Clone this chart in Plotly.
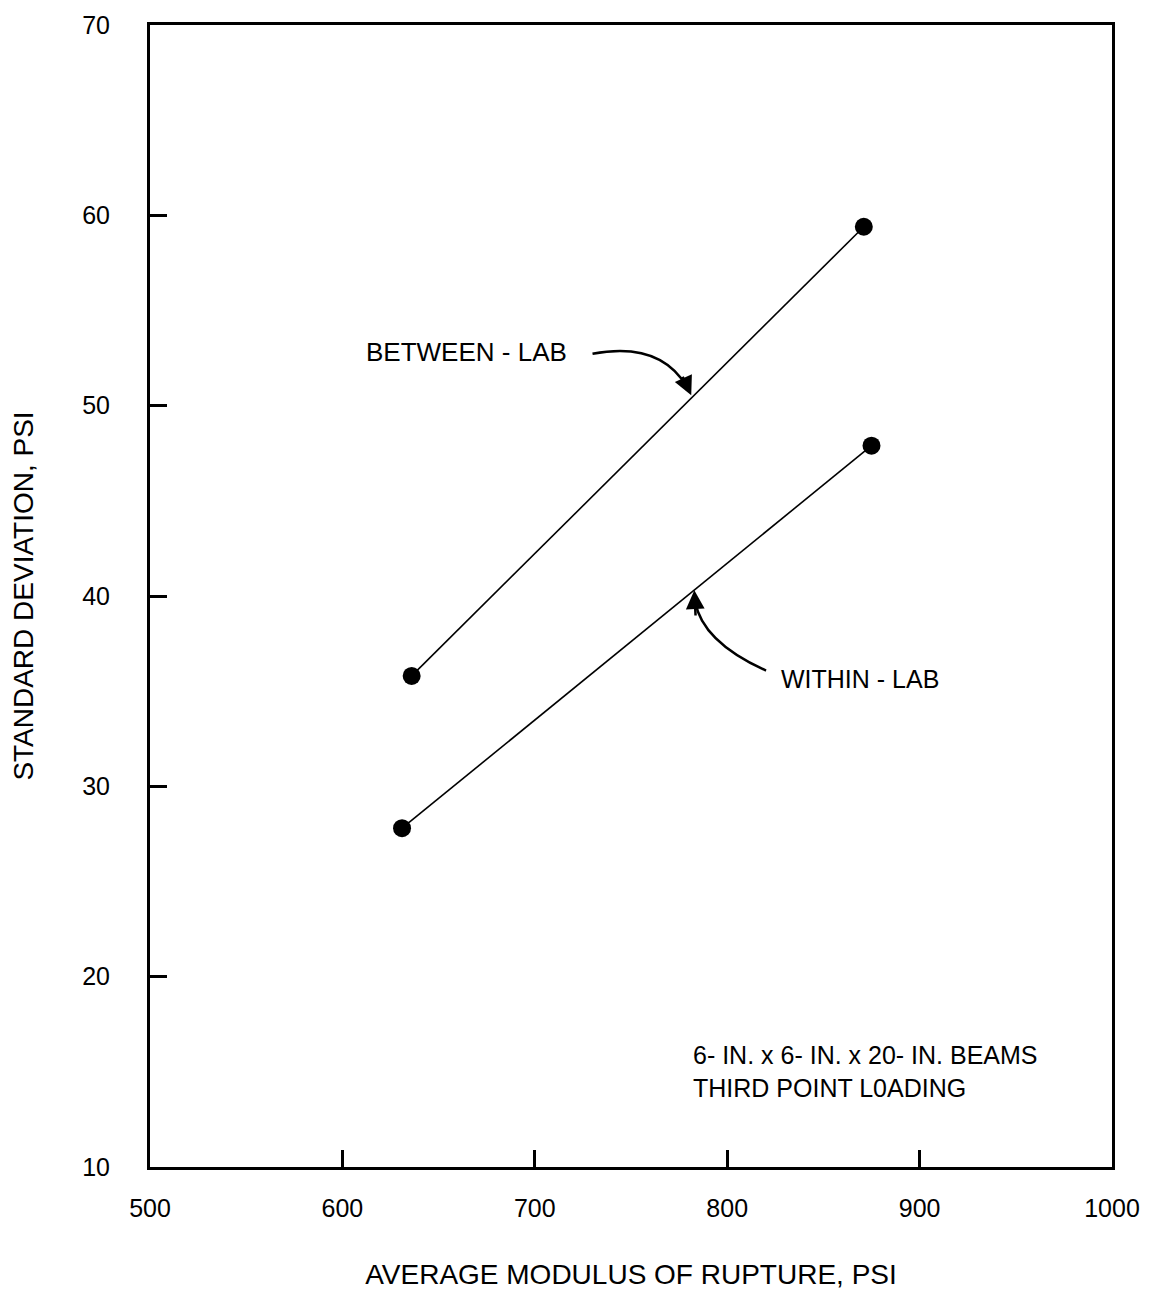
import plotly.graph_objects as go

# Data
between_x = [636, 871]
between_y = [35.8, 59.4]
within_x = [631, 875]
within_y = [27.8, 47.9]

x_ticks = [500, 600, 700, 800, 900, 1000]
y_ticks = [10, 20, 30, 40, 50, 60, 70]

FONT = "Liberation Sans, Arial, Helvetica, sans-serif"

fig = go.Figure()
for xs, ys, name in [(between_x, between_y, "BETWEEN - LAB"), (within_x, within_y, "WITHIN - LAB")]:
    fig.add_trace(go.Scatter(
        x=xs, y=ys, mode="lines+markers", name=name,
        line=dict(color="black", width=1.6),
        marker=dict(color="black", size=18),
        showlegend=False,
    ))

# curved leader lines
fig.add_shape(type="path", xref="x", yref="y",
              path="M 730,52.73 Q 765,53.4 779.0,51.0",
              line=dict(color="black", width=2.5))
fig.add_shape(type="path", xref="x", yref="y",
              path="M 820.2,36.08 Q 787,37.6 783.4,39.7",
              line=dict(color="black", width=2.5))

# arrowheads
fig.add_annotation(x=781.3, y=50.55, ax=776.5, ay=51.6, xref="x", yref="y",
                   axref="x", ayref="y", text="", showarrow=True,
                   arrowhead=2, arrowsize=1.5, arrowwidth=2.5, arrowcolor="black")
fig.add_annotation(x=782.9, y=40.3, ax=783.6, ay=38.9, xref="x", yref="y",
                   axref="x", ayref="y", text="", showarrow=True,
                   arrowhead=2, arrowsize=1.5, arrowwidth=2.5, arrowcolor="black")

ANN_FONT = dict(size=26, color="black", family=FONT)
fig.add_annotation(x=664.5, y=52.83, xref="x", yref="y", text="BETWEEN - LAB",
                   showarrow=False, font=ANN_FONT)
fig.add_annotation(x=869, y=35.66, xref="x", yref="y", text="WITHIN - LAB",
                   showarrow=False, font=dict(size=25, color="black", family=FONT))
fig.add_annotation(x=781, y=15.0, xref="x", yref="y",
                   text="6- IN. x 6- IN. x 20- IN. BEAMS<br>THIRD POINT L0ADING",
                   showarrow=False, xanchor="left", align="left",
                   font=dict(size=25, color="black", family=FONT))

axis_common = dict(
    showline=True, linecolor="black", linewidth=3, mirror=True,
    ticks="inside", ticklen=17, tickwidth=2.5, tickcolor="black",
    showgrid=False, zeroline=False, automargin=False,
    ticklabeloverflow="allow",
    tickfont=dict(size=25, color="black", family=FONT),
)

fig.update_xaxes(range=[500, 1000], tickvals=x_ticks, ticktext=[str(v) for v in x_ticks],
                 ticklabelstandoff=17,
                 title=dict(text="AVERAGE MODULUS OF RUPTURE, PSI", standoff=44,
                            font=dict(size=28, color="black", family=FONT)),
                 **axis_common)
fig.update_yaxes(range=[10, 70], tickvals=y_ticks, ticktext=[str(v) for v in y_ticks],
                 ticklabelstandoff=32,
                 title=dict(text="STANDARD DEVIATION, PSI", standoff=42,
                            font=dict(size=28, color="black", family=FONT)),
                 **axis_common)

fig.update_layout(
    width=1157, height=1294,
    margin=dict(l=142, r=53, t=17, b=135),
    plot_bgcolor="white", paper_bgcolor="white",
    font=dict(family=FONT, color="black"),
)

fig.write_html("out.html")
